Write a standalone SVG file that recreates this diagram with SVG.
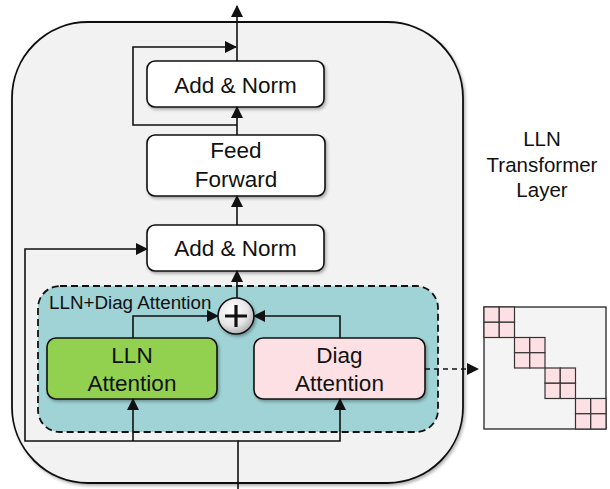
<svg xmlns="http://www.w3.org/2000/svg" width="610" height="489" viewBox="0 0 610 489">
<defs>
<style>
.box{stroke:#111;stroke-width:1.6}
.t{font-family:"Liberation Sans",Arial,sans-serif;fill:#111;text-anchor:middle}
.c{fill:none;stroke:#111;stroke-width:1.6}
.cell{fill:#fde0e3;stroke:#333;stroke-width:1.2}
</style>
<marker id="ah" viewBox="0 0 12 12" refX="11" refY="6" markerWidth="12" markerHeight="12" markerUnits="userSpaceOnUse" orient="auto">
<path d="M0,0 L12,6 L0,12 Z" fill="#111"/>
</marker>
<filter id="sh" x="-10%" y="-10%" width="130%" height="140%">
<feDropShadow dx="1.5" dy="2" stdDeviation="1.5" flood-color="#000" flood-opacity="0.3"/>
</filter>
<radialGradient id="pg" cx="40%" cy="35%" r="70%">
<stop offset="0" stop-color="#ffffff"/>
<stop offset="0.6" stop-color="#e6e6e6"/>
<stop offset="1" stop-color="#a8a8a8"/>
</radialGradient>
</defs>

<g id="layer">
<rect x="12" y="22" width="451" height="461" rx="76" ry="76" fill="#f2f2f2" stroke="#111" stroke-width="1.8" filter="url(#sh)"/>
</g>

<g id="group-attn">
<rect x="38" y="286" width="400" height="146" rx="22" ry="22" fill="#9fd3d6" stroke="#111" stroke-width="1.8" stroke-dasharray="7,4"/>
<text class="t" x="49" y="309" style="text-anchor:start" font-size="18.8">LLN+Diag Attention</text>
</g>

<g id="addnorm1">
<rect class="box" x="147" y="61" width="177" height="46" rx="8" fill="#fff" filter="url(#sh)"/>
<text class="t" x="235.5" y="92.5" font-size="22.5">Add &amp; Norm</text>
</g>

<g id="ff">
<rect class="box" x="147" y="135" width="178" height="61" rx="8" fill="#fff" filter="url(#sh)"/>
<text class="t" x="236" y="158" font-size="22.5">Feed</text>
<text class="t" x="236" y="187" font-size="22.5">Forward</text>
</g>

<g id="addnorm2">
<rect class="box" x="147" y="225" width="177" height="46" rx="8" fill="#fff" filter="url(#sh)"/>
<text class="t" x="235.5" y="256" font-size="22.5">Add &amp; Norm</text>
</g>

<g id="lln">
<rect class="box" x="47" y="338" width="170" height="61" rx="9" fill="#92d050" filter="url(#sh)"/>
<text class="t" x="132" y="363" font-size="22.5">LLN</text>
<text class="t" x="132" y="391" font-size="22.5">Attention</text>
</g>

<g id="diag">
<rect class="box" x="254" y="338" width="171" height="61" rx="9" fill="#fde0e3" filter="url(#sh)"/>
<text class="t" x="339.5" y="363" font-size="22.5">Diag</text>
<text class="t" x="339.5" y="391" font-size="22.5">Attention</text>
</g>

<g id="plus">
<circle cx="236" cy="316" r="18" fill="url(#pg)" stroke="#111" stroke-width="1.6" filter="url(#sh)"/>
<path d="M236,305 V327 M225,316 H247" stroke="#111" stroke-width="3.2" fill="none"/>
</g>

<g id="label">
<text class="t" x="542" y="146" font-size="20.5">LLN</text>
<text class="t" x="542" y="172" font-size="20.5">Transformer</text>
<text class="t" x="542" y="197" font-size="20.5">Layer</text>
</g>

<g id="matrix">
<rect x="484" y="307" width="122" height="122" fill="#f4f4f4" stroke="#333" stroke-width="1.4"/>
<rect class="cell" x="484" y="307" width="15.25" height="15.25"/>
<rect class="cell" x="499.25" y="307" width="15.25" height="15.25"/>
<rect class="cell" x="484" y="322.25" width="15.25" height="15.25"/>
<rect class="cell" x="499.25" y="322.25" width="15.25" height="15.25"/>
<rect class="cell" x="514.5" y="337.5" width="15.25" height="15.25"/>
<rect class="cell" x="529.75" y="337.5" width="15.25" height="15.25"/>
<rect class="cell" x="514.5" y="352.75" width="15.25" height="15.25"/>
<rect class="cell" x="529.75" y="352.75" width="15.25" height="15.25"/>
<rect class="cell" x="545" y="368" width="15.25" height="15.25"/>
<rect class="cell" x="560.25" y="368" width="15.25" height="15.25"/>
<rect class="cell" x="545" y="383.25" width="15.25" height="15.25"/>
<rect class="cell" x="560.25" y="383.25" width="15.25" height="15.25"/>
<rect class="cell" x="575.5" y="398.5" width="15.25" height="15.25"/>
<rect class="cell" x="590.75" y="398.5" width="15.25" height="15.25"/>
<rect class="cell" x="575.5" y="413.75" width="15.25" height="15.25"/>
<rect class="cell" x="590.75" y="413.75" width="15.25" height="15.25"/>
</g>

<g id="connectors">
<path class="c" d="M237,61 V6" marker-end="url(#ah)"/>
<path class="c" d="M237,125 H133 V47 H236" marker-end="url(#ah)"/>
<path class="c" d="M237,135 V107" marker-end="url(#ah)"/>
<path class="c" d="M237,225 V196" marker-end="url(#ah)"/>
<path class="c" d="M237,298 V271" marker-end="url(#ah)"/>
<path class="c" d="M238,489 V441 H25 V249 H147" marker-end="url(#ah)"/>
<path class="c" d="M133,441 V399" marker-end="url(#ah)"/>
<path class="c" d="M238,441 H340 V399" marker-end="url(#ah)"/>
<path class="c" d="M133,338 V316 H218" marker-end="url(#ah)"/>
<path class="c" d="M340,338 V316 H254" marker-end="url(#ah)"/>
<path class="c" d="M425,369 H478" stroke-dasharray="5,4" marker-end="url(#ah)"/>
</g>
</svg>
